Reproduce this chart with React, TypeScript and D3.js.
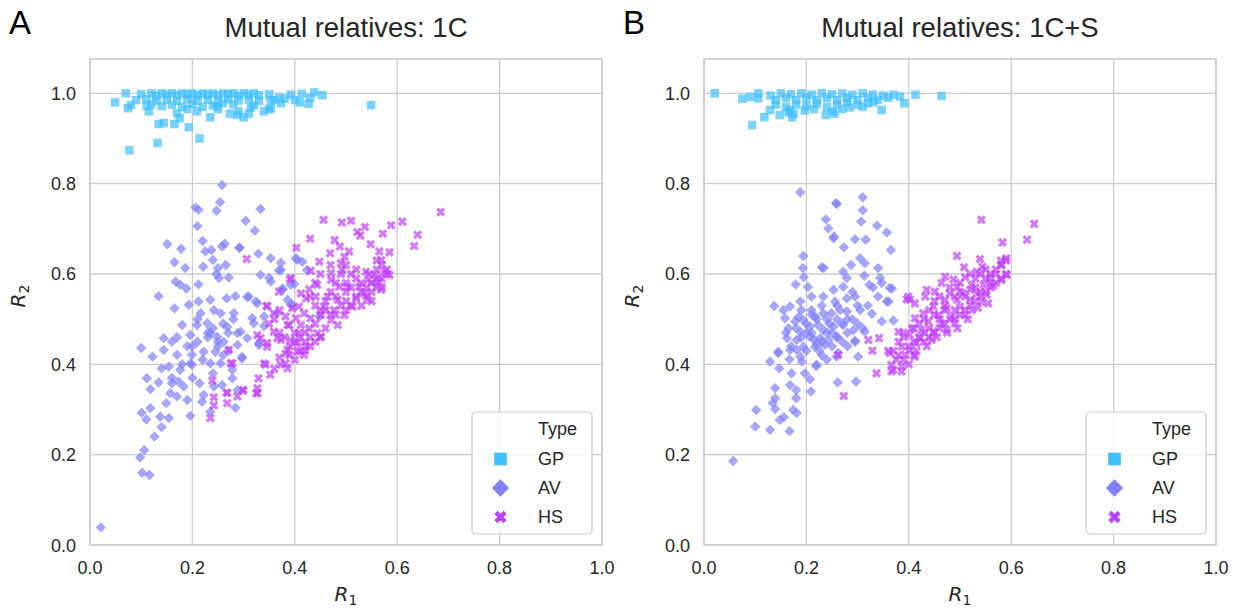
import React from "react";
import * as d3 from "d3";

type Pt = [number, number];

const types = ["GP", "AV", "HS"];
const colors = ["#40bfff", "#8080ff", "#bf40ff"];
const ticks = [0, 0.2, 0.4, 0.6, 0.8, 1.0];
const titles = ["Mutual relatives: 1C", "Mutual relatives: 1C+S"];
const letters = ["A", "B"];

// panel A
const gpA: Pt[] = [
  [0.07, 1.0], [0.049, 0.98], [0.074, 0.967], [0.077, 0.874], [0.132, 0.89], [0.134, 0.932], [0.144, 0.934],
  [0.165, 0.932], [0.193, 0.925], [0.214, 0.9], [0.17, 0.956], [0.175, 0.945], [0.235, 0.947], [0.273, 0.955],
  [0.3, 0.947], [0.34, 0.96], [0.373, 0.978], [0.392, 0.997], [0.414, 0.999], [0.438, 1.002], [0.454, 0.996],
  [0.427, 0.977], [0.41, 0.98], [0.549, 0.974], [0.288, 0.952], [0.314, 0.968], [0.19, 0.965], [0.25, 0.965],
  [0.29, 0.96], [0.31, 0.955], [0.22, 0.97], [0.35, 0.965], [0.1, 0.998], [0.12, 1.0], [0.13, 0.995],
  [0.14, 1.0], [0.15, 0.997], [0.16, 1.0], [0.17, 0.996], [0.18, 1.0], [0.19, 0.998], [0.2, 1.0],
  [0.21, 0.996], [0.22, 1.0], [0.23, 0.997], [0.24, 1.0], [0.25, 0.996], [0.26, 1.0], [0.27, 0.998],
  [0.28, 1.0], [0.29, 0.995], [0.3, 1.0], [0.31, 0.997], [0.32, 1.0], [0.33, 0.996], [0.35, 0.998],
  [0.09, 0.985], [0.11, 0.987], [0.13, 0.984], [0.15, 0.986], [0.17, 0.983], [0.19, 0.987], [0.21, 0.984],
  [0.23, 0.986], [0.25, 0.983], [0.27, 0.987], [0.29, 0.984], [0.31, 0.986], [0.33, 0.983], [0.36, 0.985],
  [0.38, 0.988], [0.08, 0.974], [0.12, 0.976], [0.14, 0.972], [0.16, 0.975], [0.2, 0.977], [0.24, 0.973],
  [0.28, 0.976], [0.32, 0.974], [0.37, 0.99], [0.4, 0.985], [0.43, 0.99], [0.18, 0.97], [0.26, 0.978],
  [0.111, 0.972], [0.209, 0.96], [0.248, 0.971], [0.353, 0.967], [0.353, 0.985], [0.115, 0.96],
];

const avA: Pt[] = [
  [0.258, 0.797], [0.254, 0.759], [0.247, 0.74], [0.206, 0.747], [0.212, 0.742], [0.21, 0.706], [0.333, 0.744],
  [0.304, 0.718], [0.322, 0.696], [0.22, 0.673], [0.151, 0.666], [0.178, 0.656], [0.165, 0.626], [0.186, 0.613],
  [0.225, 0.65], [0.237, 0.653], [0.258, 0.661], [0.263, 0.667], [0.24, 0.631], [0.221, 0.616], [0.25, 0.613],
  [0.265, 0.62], [0.292, 0.658], [0.329, 0.645], [0.353, 0.635], [0.373, 0.625], [0.402, 0.635], [0.247, 0.6],
  [0.252, 0.591], [0.271, 0.592], [0.333, 0.598], [0.353, 0.583], [0.373, 0.609], [0.167, 0.583], [0.176, 0.576],
  [0.188, 0.568], [0.212, 0.577], [0.134, 0.551], [0.165, 0.524], [0.193, 0.532], [0.212, 0.539], [0.235, 0.543],
  [0.267, 0.546], [0.284, 0.551], [0.307, 0.549], [0.327, 0.535], [0.376, 0.565], [0.386, 0.543], [0.395, 0.532],
  [0.366, 0.513], [0.216, 0.513], [0.242, 0.52], [0.255, 0.513], [0.281, 0.513], [0.317, 0.502], [0.34, 0.506],
  [0.18, 0.487], [0.209, 0.487], [0.229, 0.491], [0.268, 0.483], [0.32, 0.491], [0.144, 0.458], [0.16, 0.45],
  [0.196, 0.465], [0.235, 0.469], [0.248, 0.461], [0.288, 0.469], [0.307, 0.458], [0.33, 0.447], [0.1, 0.436],
  [0.122, 0.417], [0.144, 0.432], [0.17, 0.421], [0.199, 0.421], [0.222, 0.428], [0.245, 0.428], [0.261, 0.45],
  [0.288, 0.443], [0.297, 0.413], [0.235, 0.402], [0.255, 0.402], [0.196, 0.402], [0.14, 0.391], [0.154, 0.395],
  [0.176, 0.388], [0.199, 0.399], [0.111, 0.369], [0.134, 0.36], [0.118, 0.345], [0.16, 0.358], [0.173, 0.362],
  [0.183, 0.351], [0.157, 0.336], [0.17, 0.329], [0.19, 0.321], [0.214, 0.358], [0.222, 0.332], [0.219, 0.317],
  [0.242, 0.351], [0.258, 0.354], [0.278, 0.369], [0.288, 0.343], [0.284, 0.304], [0.235, 0.295], [0.196, 0.286],
  [0.149, 0.314], [0.118, 0.303], [0.101, 0.293], [0.11, 0.278], [0.137, 0.284], [0.154, 0.281], [0.14, 0.261],
  [0.126, 0.24], [0.106, 0.21], [0.098, 0.194], [0.102, 0.16], [0.116, 0.155], [0.021, 0.039], [0.292, 0.658],
  [0.405, 0.631], [0.415, 0.627], [0.424, 0.609], [0.35, 0.591], [0.369, 0.608], [0.376, 0.568], [0.392, 0.576],
  [0.399, 0.578], [0.392, 0.532], [0.31, 0.55], [0.324, 0.539], [0.34, 0.485], [0.556, 0.58], [0.448, 0.506],
  [0.294, 0.472], [0.33, 0.443], [0.297, 0.417], [0.278, 0.388], [0.2, 0.44], [0.23, 0.46], [0.26, 0.49],
  [0.27, 0.43], [0.21, 0.5], [0.24, 0.48], [0.28, 0.5], [0.25, 0.44], [0.17, 0.46], [0.19, 0.44],
  [0.21, 0.45], [0.23, 0.47], [0.25, 0.45], [0.27, 0.47], [0.22, 0.41], [0.18, 0.4], [0.2, 0.37],
  [0.16, 0.37], [0.24, 0.38], [0.26, 0.42],
];

const hsA: Pt[] = [
  [0.306, 0.633], [0.43, 0.678], [0.403, 0.658], [0.392, 0.591], [0.369, 0.561], [0.345, 0.529], [0.359, 0.513],
  [0.386, 0.487], [0.271, 0.432], [0.278, 0.402], [0.327, 0.465], [0.346, 0.439], [0.366, 0.458], [0.386, 0.432],
  [0.34, 0.402], [0.685, 0.737], [0.456, 0.72], [0.492, 0.714], [0.51, 0.718], [0.537, 0.704], [0.522, 0.693],
  [0.528, 0.685], [0.588, 0.708], [0.61, 0.716], [0.572, 0.689], [0.64, 0.687], [0.633, 0.662], [0.478, 0.675],
  [0.488, 0.661], [0.548, 0.666], [0.506, 0.65], [0.497, 0.638], [0.565, 0.65], [0.585, 0.648], [0.569, 0.631],
  [0.469, 0.646], [0.448, 0.627], [0.49, 0.624], [0.493, 0.609], [0.431, 0.607], [0.471, 0.602], [0.539, 0.605],
  [0.556, 0.598], [0.575, 0.605], [0.585, 0.598], [0.543, 0.587], [0.565, 0.583], [0.569, 0.565], [0.471, 0.587],
  [0.487, 0.572], [0.503, 0.572], [0.526, 0.572], [0.536, 0.557], [0.52, 0.546], [0.543, 0.543], [0.444, 0.576],
  [0.428, 0.566], [0.412, 0.557], [0.422, 0.546], [0.441, 0.55], [0.464, 0.55], [0.484, 0.543], [0.513, 0.528],
  [0.497, 0.509], [0.477, 0.52], [0.457, 0.528], [0.451, 0.509], [0.471, 0.498], [0.484, 0.487], [0.408, 0.528],
  [0.418, 0.513], [0.431, 0.502], [0.402, 0.502], [0.412, 0.487], [0.428, 0.48], [0.444, 0.469], [0.451, 0.461],
  [0.408, 0.469], [0.392, 0.454], [0.405, 0.447], [0.422, 0.439], [0.405, 0.428], [0.418, 0.421], [0.389, 0.487],
  [0.382, 0.506], [0.395, 0.524], [0.359, 0.472], [0.373, 0.454], [0.346, 0.447], [0.333, 0.458], [0.382, 0.424],
  [0.382, 0.402], [0.373, 0.399], [0.386, 0.391], [0.343, 0.399], [0.329, 0.369], [0.352, 0.377], [0.327, 0.347],
  [0.327, 0.336], [0.299, 0.342], [0.268, 0.337], [0.275, 0.402], [0.346, 0.529], [0.391, 0.588], [0.239, 0.364],
  [0.242, 0.327], [0.242, 0.309], [0.235, 0.281], [0.267, 0.337], [0.268, 0.314], [0.288, 0.329], [0.299, 0.343],
  [0.325, 0.336], [0.36, 0.39], [0.37, 0.415], [0.46, 0.54], [0.5, 0.56], [0.52, 0.55], [0.54, 0.57],
  [0.56, 0.59], [0.55, 0.56], [0.53, 0.58], [0.49, 0.53], [0.47, 0.51], [0.44, 0.49], [0.42, 0.47],
  [0.4, 0.45], [0.43, 0.44], [0.45, 0.46], [0.41, 0.43], [0.39, 0.44], [0.44, 0.53], [0.48, 0.58],
  [0.51, 0.6], [0.57, 0.62], [0.58, 0.61], [0.56, 0.63], [0.5, 0.52], [0.46, 0.48], [0.43, 0.46],
  [0.47, 0.56], [0.48, 0.55], [0.5, 0.58], [0.51, 0.57], [0.52, 0.59], [0.53, 0.56], [0.54, 0.55],
  [0.55, 0.58], [0.56, 0.57], [0.57, 0.59], [0.58, 0.6], [0.56, 0.61], [0.545, 0.6], [0.52, 0.61],
  [0.5, 0.62], [0.49, 0.6], [0.47, 0.62], [0.45, 0.6], [0.44, 0.58], [0.43, 0.55], [0.45, 0.52],
  [0.46, 0.52], [0.48, 0.51], [0.5, 0.54], [0.51, 0.53], [0.53, 0.53], [0.55, 0.54], [0.57, 0.57],
  [0.44, 0.45], [0.42, 0.45], [0.41, 0.46], [0.4, 0.47], [0.39, 0.42], [0.4, 0.41], [0.42, 0.43],
  [0.38, 0.46], [0.37, 0.47], [0.36, 0.5], [0.37, 0.52], [0.35, 0.49],
];

// panel B
const gpB: Pt[] = [
  [0.021, 1.0], [0.075, 0.988], [0.09, 0.992], [0.106, 1.0], [0.106, 0.989], [0.094, 0.93], [0.118, 0.947],
  [0.129, 0.963], [0.148, 0.952], [0.172, 0.947], [0.168, 0.963], [0.197, 0.962], [0.238, 0.952], [0.251, 0.96],
  [0.285, 0.969], [0.331, 0.98], [0.347, 0.963], [0.391, 0.978], [0.413, 0.997], [0.464, 0.994], [0.37, 0.997],
  [0.383, 0.993], [0.13, 0.995], [0.14, 0.985], [0.15, 1.0], [0.16, 0.99], [0.17, 0.998], [0.18, 0.985],
  [0.19, 1.0], [0.2, 0.99], [0.21, 0.997], [0.22, 0.985], [0.23, 1.0], [0.24, 0.99], [0.25, 0.998],
  [0.26, 0.985], [0.27, 1.0], [0.28, 0.99], [0.29, 0.997], [0.3, 0.985], [0.31, 1.0], [0.32, 0.99],
  [0.33, 0.997], [0.34, 0.986], [0.35, 0.995], [0.36, 0.99], [0.14, 0.975], [0.16, 0.97], [0.18, 0.975],
  [0.2, 0.972], [0.22, 0.977], [0.24, 0.97], [0.26, 0.975], [0.28, 0.98], [0.3, 0.975], [0.32, 0.978],
  [0.165, 0.958], [0.175, 0.955], [0.215, 0.965], [0.27, 0.965], [0.31, 0.97], [0.255, 0.955],
];

const avB: Pt[] = [
  [0.188, 0.781], [0.31, 0.77], [0.258, 0.757], [0.31, 0.741], [0.307, 0.716], [0.238, 0.721], [0.243, 0.701],
  [0.253, 0.679], [0.338, 0.707], [0.357, 0.692], [0.295, 0.677], [0.316, 0.676], [0.273, 0.659], [0.365, 0.653],
  [0.194, 0.64], [0.305, 0.635], [0.287, 0.62], [0.314, 0.624], [0.193, 0.613], [0.23, 0.615], [0.234, 0.613],
  [0.34, 0.613], [0.195, 0.593], [0.272, 0.605], [0.279, 0.591], [0.313, 0.596], [0.344, 0.591], [0.179, 0.577],
  [0.203, 0.571], [0.253, 0.565], [0.272, 0.572], [0.323, 0.576], [0.347, 0.58], [0.367, 0.568], [0.137, 0.529],
  [0.155, 0.52], [0.168, 0.528], [0.188, 0.539], [0.21, 0.55], [0.233, 0.55], [0.256, 0.539], [0.279, 0.546],
  [0.295, 0.55], [0.34, 0.55], [0.357, 0.539], [0.158, 0.502], [0.178, 0.495], [0.194, 0.498], [0.217, 0.506],
  [0.233, 0.513], [0.249, 0.513], [0.266, 0.52], [0.279, 0.517], [0.305, 0.52], [0.328, 0.512], [0.347, 0.495],
  [0.37, 0.497], [0.165, 0.48], [0.188, 0.472], [0.207, 0.484], [0.223, 0.487], [0.233, 0.476], [0.253, 0.484],
  [0.272, 0.487], [0.292, 0.476], [0.314, 0.472], [0.162, 0.458], [0.181, 0.454], [0.207, 0.461], [0.227, 0.458],
  [0.243, 0.454], [0.259, 0.461], [0.295, 0.452], [0.145, 0.428], [0.168, 0.432], [0.194, 0.439], [0.217, 0.439],
  [0.236, 0.443], [0.262, 0.425], [0.301, 0.417], [0.129, 0.406], [0.188, 0.417], [0.22, 0.399], [0.145, 0.425],
  [0.147, 0.391], [0.167, 0.411], [0.181, 0.432], [0.191, 0.406], [0.197, 0.38], [0.171, 0.38], [0.219, 0.396],
  [0.207, 0.367], [0.168, 0.354], [0.139, 0.347], [0.18, 0.343], [0.139, 0.325], [0.134, 0.314], [0.18, 0.325],
  [0.209, 0.34], [0.139, 0.301], [0.102, 0.299], [0.174, 0.299], [0.181, 0.292], [0.156, 0.283], [0.148, 0.277],
  [0.1, 0.262], [0.129, 0.255], [0.167, 0.252], [0.057, 0.186], [0.261, 0.36], [0.297, 0.362], [0.259, 0.417],
  [0.295, 0.45], [0.22, 0.445], [0.259, 0.755], [0.254, 0.683], [0.363, 0.569], [0.36, 0.539], [0.2, 0.47],
  [0.215, 0.455], [0.24, 0.47], [0.26, 0.5], [0.28, 0.5], [0.21, 0.52], [0.185, 0.505], [0.225, 0.43],
  [0.245, 0.49], [0.3, 0.49], [0.32, 0.53], [0.27, 0.45], [0.29, 0.56], [0.33, 0.57], [0.19, 0.46],
  [0.2, 0.49], [0.21, 0.47], [0.22, 0.5], [0.23, 0.45], [0.24, 0.5], [0.25, 0.47], [0.26, 0.46],
  [0.27, 0.49], [0.28, 0.47], [0.29, 0.5], [0.31, 0.48], [0.2, 0.43], [0.23, 0.42], [0.25, 0.44],
  [0.21, 0.51], [0.18, 0.48], [0.17, 0.44], [0.16, 0.47], [0.3, 0.53], [0.26, 0.53], [0.23, 0.53],
  [0.19, 0.52], [0.24, 0.41], [0.28, 0.44],
];

const hsB: Pt[] = [
  [0.542, 0.72], [0.645, 0.711], [0.631, 0.676], [0.583, 0.67], [0.494, 0.64], [0.539, 0.633], [0.59, 0.635],
  [0.581, 0.62], [0.508, 0.615], [0.544, 0.616], [0.533, 0.605], [0.591, 0.598], [0.581, 0.587], [0.471, 0.594],
  [0.487, 0.588], [0.51, 0.593], [0.559, 0.591], [0.464, 0.58], [0.494, 0.572], [0.523, 0.576], [0.546, 0.576],
  [0.565, 0.574], [0.435, 0.565], [0.451, 0.561], [0.48, 0.557], [0.506, 0.557], [0.533, 0.557], [0.552, 0.554],
  [0.396, 0.544], [0.412, 0.535], [0.432, 0.55], [0.471, 0.543], [0.494, 0.543], [0.52, 0.543], [0.542, 0.539],
  [0.448, 0.528], [0.474, 0.524], [0.5, 0.528], [0.523, 0.52], [0.428, 0.513], [0.458, 0.509], [0.484, 0.506],
  [0.51, 0.509], [0.412, 0.502], [0.438, 0.495], [0.464, 0.491], [0.49, 0.491], [0.406, 0.48], [0.425, 0.476],
  [0.448, 0.472], [0.474, 0.476], [0.402, 0.465], [0.422, 0.458], [0.445, 0.454], [0.415, 0.447], [0.386, 0.439],
  [0.402, 0.432], [0.393, 0.421], [0.412, 0.417], [0.363, 0.425], [0.376, 0.41], [0.366, 0.399], [0.386, 0.395],
  [0.366, 0.384], [0.386, 0.384], [0.337, 0.38], [0.321, 0.454], [0.329, 0.43], [0.342, 0.458], [0.38, 0.472],
  [0.273, 0.33], [0.399, 0.55], [0.402, 0.543], [0.262, 0.421], [0.37, 0.388], [0.38, 0.45], [0.36, 0.43],
  [0.5, 0.56], [0.52, 0.565], [0.54, 0.56], [0.56, 0.58], [0.49, 0.52], [0.46, 0.5], [0.44, 0.48],
  [0.43, 0.47], [0.47, 0.53], [0.53, 0.59], [0.57, 0.6], [0.55, 0.61], [0.42, 0.49], [0.45, 0.54],
  [0.39, 0.46], [0.41, 0.42], [0.58, 0.62], [0.59, 0.63], [0.4, 0.44], [0.41, 0.45], [0.42, 0.46],
  [0.43, 0.45], [0.44, 0.46], [0.45, 0.47], [0.46, 0.48], [0.47, 0.49], [0.48, 0.5], [0.49, 0.5],
  [0.5, 0.51], [0.51, 0.52], [0.52, 0.53], [0.53, 0.54], [0.54, 0.55], [0.55, 0.56], [0.56, 0.57],
  [0.57, 0.58], [0.58, 0.59], [0.59, 0.6], [0.55, 0.59], [0.53, 0.57], [0.51, 0.55], [0.49, 0.55],
  [0.47, 0.52], [0.45, 0.51], [0.43, 0.5], [0.41, 0.48], [0.39, 0.47], [0.38, 0.42], [0.39, 0.41],
  [0.4, 0.4], [0.37, 0.43], [0.44, 0.52], [0.46, 0.55], [0.48, 0.57], [0.5, 0.58], [0.52, 0.6],
  [0.54, 0.6], [0.56, 0.6], [0.58, 0.63], [0.57, 0.61], [0.555, 0.535], [0.535, 0.525], [0.515, 0.5],
  [0.495, 0.48], [0.475, 0.47], [0.455, 0.46], [0.435, 0.44], [0.415, 0.43],
];

const panelData = [
  [gpA, avA, hsA],
  [gpB, avB, hsB],
];

const W = 1245;
const H = 613;
const TOP = 59;
const BOTTOM = 545;
const panelX: [number, number][] = [
  [90, 602],
  [704, 1216],
];

const grey = "#cccccc";
const textCol = "#262626";
const font = "'Liberation Sans', Arial, sans-serif";

const markerPath = (i: number, big: boolean) => {
  if (i === 0) return d3.symbol(d3.symbolSquare, big ? 160 : 72)()!;
  if (i === 1) return d3.symbol(d3.symbolSquare, big ? 150 : 54)()!;
  return d3.symbol(d3.symbolCross, big ? 95 : 52)()!;
};
const markerRot = (i: number) => (i === 0 ? 0 : 45);

const Panel = ({ p }: { p: number }) => {
  const [x0, x1] = panelX[p];
  const x = d3.scaleLinear().domain([0, 1]).range([x0, x1]);
  const y = d3.scaleLinear().domain([0, 1.076]).range([BOTTOM, TOP]);
  const fmt = d3.format(".1f");
  const cx = (x0 + x1) / 2;
  const lgR = x1 - 10;
  const lgL = lgR - 120;
  const lgT = 412;
  return (
    <g>
      <text x={x0 - 81} y={34} fontSize={33} fontFamily={font} fill="#000">
        {letters[p]}
      </text>
      <text x={cx} y={37} fontSize={27.5} fontFamily={font} fill={textCol} textAnchor="middle">
        {titles[p]}
      </text>
      {ticks.map((t) => (
        <line key={"gx" + t} x1={x(t)} x2={x(t)} y1={TOP} y2={BOTTOM} stroke={grey} strokeWidth={1.3} />
      ))}
      {ticks.map((t) => (
        <line key={"gy" + t} x1={x0} x2={x1} y1={y(t)} y2={y(t)} stroke={grey} strokeWidth={1.3} />
      ))}
      <rect x={x0} y={TOP} width={x1 - x0} height={BOTTOM - TOP} fill="none" stroke={grey} strokeWidth={1.6} />
      {ticks.map((t) => (
        <text key={"tx" + t} x={x(t)} y={BOTTOM + 29} fontSize={18} fontFamily={font} fill={textCol} textAnchor="middle">
          {fmt(t)}
        </text>
      ))}
      {ticks.map((t) => (
        <text key={"ty" + t} x={x0 - 14} y={y(t) + 6.5} fontSize={18} fontFamily={font} fill={textCol} textAnchor="end">
          {fmt(t)}
        </text>
      ))}
      <text x={cx} y={601} fontSize={20} fontFamily="'DejaVu Sans', sans-serif" fill={textCol} textAnchor="middle">
        <tspan fontStyle="italic">R</tspan>
        <tspan fontSize={14} dy={4}>1</tspan>
      </text>
      <text
        transform={`translate(${x0 - 65},${(TOP + BOTTOM) / 2 - 6}) rotate(-90)`}
        fontSize={20}
        fontFamily="'DejaVu Sans', sans-serif"
        fill={textCol}
        textAnchor="middle"
      >
        <tspan fontStyle="italic">R</tspan>
        <tspan fontSize={14} dy={4}>2</tspan>
      </text>
      {panelData[p].map((pts, i) => (
        <g key={types[i]} fill={colors[i]} fillOpacity={0.7}>
          {pts.map((d, k) => (
            <path
              key={k}
              d={markerPath(i, false)}
              transform={`translate(${x(d[0])},${y(d[1])}) rotate(${markerRot(i)})`}
            />
          ))}
        </g>
      ))}
      <rect x={lgL} y={lgT} width={lgR - lgL} height={122} rx={4} fill="#fff" fillOpacity={0.8} stroke={grey} strokeWidth={1.2} />
      <text x={lgL + 66} y={lgT + 23} fontSize={18} fontFamily={font} fill={textCol}>
        Type
      </text>
      {types.map((t, i) => (
        <g key={"lg" + t}>
          <path
            d={markerPath(i, true)}
            fill={colors[i]}
            transform={`translate(${lgL + 28.5},${lgT + 47 + i * 29}) rotate(${markerRot(i)})`}
          />
          <text x={lgL + 66} y={lgT + 53 + i * 29} fontSize={18} fontFamily={font} fill={textCol}>
            {t}
          </text>
        </g>
      ))}
    </g>
  );
};

const App = () => {
  return (
    <svg width={W} height={H} style={{ position: "absolute", left: 0, top: 0, background: "#fff" }}>
      <Panel p={0} />
      <Panel p={1} />
    </svg>
  );
};

export default App;
